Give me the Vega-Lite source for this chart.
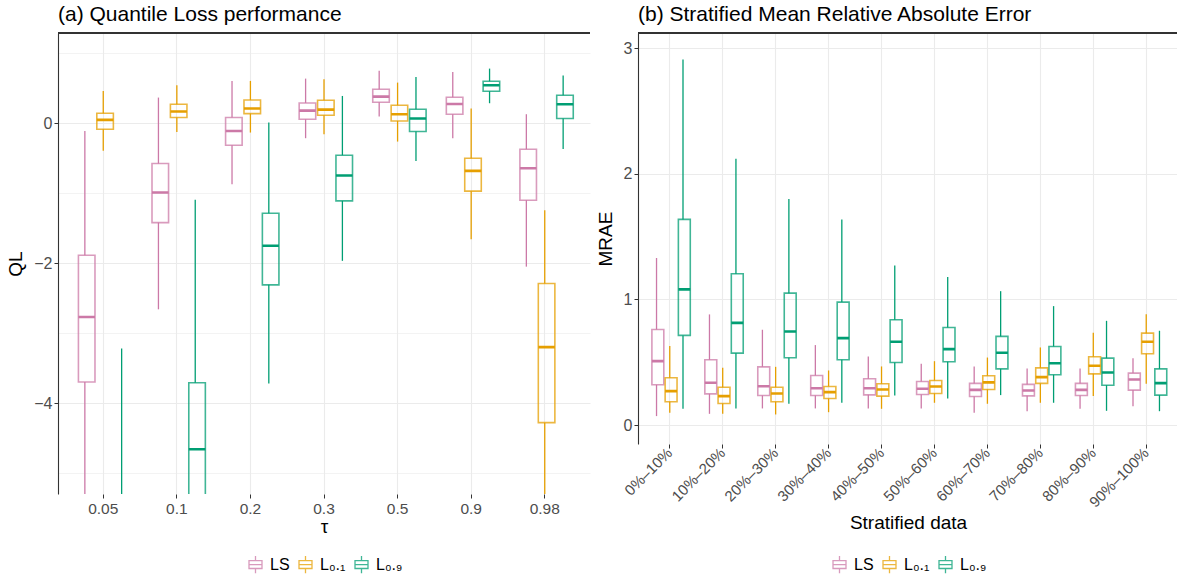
{
  "$schema": "https://vega.github.io/schema/vega-lite/v6.json",
  "background": "white",
  "padding": {"left": 6, "top": 4, "right": 0, "bottom": 0},
  "spacing": 5,
  "config": {
    "font": "Liberation Sans",
    "view": {"stroke": null},
    "axis": {"labelColor": "#4d4d4d", "labelFontSize": 16, "titleFontSize": 19, "titleFontWeight": "normal", "titleColor": "#000", "tickColor": "#333", "domainColor": "#333", "gridColor": "#ebebeb", "tickSize": 4},
    "legend": {"layout": {"bottom": {"anchor": "middle"}}},
    "title": {"fontSize": 21, "fontWeight": "normal", "color": "#000", "anchor": "start"}
  },
  "resolve": {"legend": {"color": "independent"}, "scale": {"color": "independent", "xOffset": "independent", "x": "independent", "y": "independent"}},
  "hconcat": [
    {
      "width": 532,
      "height": 461,
      "title": {"text": "(a) Quantile Loss performance", "frame": "group", "offset": 7},
      "data": {"values": [
        {"tau": "0.05", "method": "LS", "lower": -6.5, "q1": -3.70, "median": -2.77, "q3": -1.886, "upper": -0.11},
        {"tau": "0.05", "method": "L₀.₁", "lower": -0.395, "q1": -0.086, "median": 0.048, "q3": 0.143, "upper": 0.46},
        {"tau": "0.05", "method": "L₀.₉", "lower": -9.0, "q1": -7.8, "median": -7.0, "q3": -6.2, "upper": -3.22},
        {"tau": "0.1", "method": "LS", "lower": -2.66, "q1": -1.42, "median": -0.99, "q3": -0.576, "upper": 0.367},
        {"tau": "0.1", "method": "L₀.₁", "lower": -0.124, "q1": 0.081, "median": 0.167, "q3": 0.271, "upper": 0.543},
        {"tau": "0.1", "method": "L₀.₉", "lower": -7.2, "q1": -5.6, "median": -4.66, "q3": -3.71, "upper": -1.095},
        {"tau": "0.2", "method": "LS", "lower": -0.871, "q1": -0.314, "median": -0.11, "q3": 0.081, "upper": 0.605},
        {"tau": "0.2", "method": "L₀.₁", "lower": -0.133, "q1": 0.138, "median": 0.21, "q3": 0.333, "upper": 0.605},
        {"tau": "0.2", "method": "L₀.₉", "lower": -3.72, "q1": -2.31, "median": -1.752, "q3": -1.286, "upper": 0.01},
        {"tau": "0.3", "method": "LS", "lower": -0.214, "q1": 0.057, "median": 0.181, "q3": 0.29, "upper": 0.638},
        {"tau": "0.3", "method": "L₀.₁", "lower": -0.157, "q1": 0.114, "median": 0.195, "q3": 0.329, "upper": 0.629},
        {"tau": "0.3", "method": "L₀.₉", "lower": -1.967, "q1": -1.11, "median": -0.748, "q3": -0.457, "upper": 0.39},
        {"tau": "0.5", "method": "LS", "lower": 0.095, "q1": 0.3, "median": 0.381, "q3": 0.486, "upper": 0.752},
        {"tau": "0.5", "method": "L₀.₁", "lower": -0.262, "q1": 0.033, "median": 0.129, "q3": 0.257, "upper": 0.581},
        {"tau": "0.5", "method": "L₀.₉", "lower": -0.538, "q1": -0.119, "median": 0.067, "q3": 0.2, "upper": 0.662},
        {"tau": "0.9", "method": "LS", "lower": -0.214, "q1": 0.129, "median": 0.276, "q3": 0.371, "upper": 0.733},
        {"tau": "0.9", "method": "L₀.₁", "lower": -1.657, "q1": -0.971, "median": -0.681, "q3": -0.5, "upper": 0.21},
        {"tau": "0.9", "method": "L₀.₉", "lower": 0.286, "q1": 0.457, "median": 0.543, "q3": 0.6, "upper": 0.781},
        {"tau": "0.98", "method": "LS", "lower": -2.05, "q1": -1.1, "median": -0.643, "q3": -0.371, "upper": 0.129},
        {"tau": "0.98", "method": "L₀.₁", "lower": -6.0, "q1": -4.28, "median": -3.2, "q3": -2.29, "upper": -1.243},
        {"tau": "0.98", "method": "L₀.₉", "lower": -0.367, "q1": 0.067, "median": 0.271, "q3": 0.4, "upper": 0.681}
      ]},
      "layer": [
        {
          "encoding": {
            "x": {"field": "tau", "type": "nominal", "sort": ["0.05", "0.1", "0.2", "0.3", "0.5", "0.9", "0.98"],
                  "scale": {"paddingInner": 0.25, "paddingOuter": 0.24},
                  "axis": {"title": "τ", "labelAngle": 0, "labelFontSize": 15.5, "grid": true, "gridWidth": 1.1, "domain": false, "titlePadding": 1, "labelPadding": 3}},
            "xOffset": {"field": "method", "sort": ["LS", "L₀.₁", "L₀.₉"], "scale": {"paddingInner": 0, "paddingOuter": 0}},
            "color": {"field": "method", "type": "nominal",
                      "scale": {"domain": ["LS", "L₀.₁", "L₀.₉"], "range": ["#CC79A7", "#E69F00", "#009E73"]},
                      "legend": {"title": null, "orient": "bottom", "direction": "horizontal", "labelFontSize": 16, "labelColor": "#000", "symbolType": "M-0.75,-0.45H0.75V0.45H-0.75Z M-0.75,0H0.75 M0,-0.45V-1 M0,0.45V1", "symbolSize": 300, "symbolStrokeWidth": 1.3, "symbolOpacity": 0.75, "columnPadding": 6, "labelOffset": 5, "offset": 18}}
          },
          "layer": [
            {"mark": {"type": "rule", "clip": true, "strokeWidth": 1.3},
             "encoding": {"y": {"field": "lower", "type": "quantitative", "scale": {"domain": [-5.3, 1.29], "nice": false, "zero": false},
                                "axis": {"title": "QL", "format": "d", "values": [-5, -4, -3, -2, -1, 0, 1], "labelExpr": "datum.value % 2 == 0 ? datum.label : ''",
                                         "tickOpacity": {"condition": {"test": "datum.value % 2 == 0", "value": 1}, "value": 0},
                                         "gridWidth": {"condition": {"test": "datum.value % 2 == 0", "value": 1.1}, "value": 0.6},
                                         "titlePadding": 8, "domainWidth": 1.1}},
                          "y2": {"field": "q1"}}},
            {"mark": {"type": "rule", "clip": true, "strokeWidth": 1.3},
             "encoding": {"y": {"field": "q3", "type": "quantitative"}, "y2": {"field": "upper"}}},
            {"mark": {"type": "bar", "clip": true, "filled": false, "strokeWidth": 1.6, "strokeOpacity": 0.75, "width": {"band": 0.9}},
             "encoding": {"y": {"field": "q1", "type": "quantitative"}, "y2": {"field": "q3"}}},
            {"mark": {"type": "bar", "clip": true, "filled": false, "strokeWidth": 2.6, "width": {"band": 0.9}},
             "encoding": {"y": {"field": "median", "type": "quantitative"}, "y2": {"field": "median"}}}
          ]
        },
        {"mark": {"type": "rule", "color": "#333", "strokeWidth": 1.3}, "encoding": {"y": {"datum": 1.29}}}
      ]
    },
    {
      "width": 540,
      "height": 411,
      "title": {"text": "(b) Stratified Mean Relative Absolute Error", "frame": "group", "offset": 7},
      "data": {"values": [
        {"strat": "0%–10%", "method": "LS", "lower": 0.072, "q1": 0.321, "median": 0.509, "q3": 0.761, "upper": 1.33},
        {"strat": "0%–10%", "method": "L₀.₁", "lower": 0.098, "q1": 0.186, "median": 0.271, "q3": 0.377, "upper": 0.629},
        {"strat": "0%–10%", "method": "L₀.₉", "lower": 0.13, "q1": 0.714, "median": 1.08, "q3": 1.637, "upper": 2.91},
        {"strat": "10%–20%", "method": "LS", "lower": 0.09, "q1": 0.249, "median": 0.337, "q3": 0.52, "upper": 0.881},
        {"strat": "10%–20%", "method": "L₀.₁", "lower": 0.09, "q1": 0.172, "median": 0.231, "q3": 0.302, "upper": 0.456},
        {"strat": "10%–20%", "method": "L₀.₉", "lower": 0.133, "q1": 0.573, "median": 0.814, "q3": 1.204, "upper": 2.12},
        {"strat": "20%–30%", "method": "LS", "lower": 0.133, "q1": 0.236, "median": 0.31, "q3": 0.464, "upper": 0.759},
        {"strat": "20%–30%", "method": "L₀.₁", "lower": 0.085, "q1": 0.186, "median": 0.252, "q3": 0.302, "upper": 0.464},
        {"strat": "20%–30%", "method": "L₀.₉", "lower": 0.17, "q1": 0.536, "median": 0.745, "q3": 1.05, "upper": 1.80},
        {"strat": "30%–40%", "method": "LS", "lower": 0.133, "q1": 0.236, "median": 0.294, "q3": 0.395, "upper": 0.637},
        {"strat": "30%–40%", "method": "L₀.₁", "lower": 0.103, "q1": 0.212, "median": 0.263, "q3": 0.308, "upper": 0.435},
        {"strat": "30%–40%", "method": "L₀.₉", "lower": 0.178, "q1": 0.52, "median": 0.692, "q3": 0.979, "upper": 1.637},
        {"strat": "40%–50%", "method": "LS", "lower": 0.133, "q1": 0.241, "median": 0.294, "q3": 0.369, "upper": 0.546},
        {"strat": "40%–50%", "method": "L₀.₁", "lower": 0.13, "q1": 0.231, "median": 0.284, "q3": 0.329, "upper": 0.467},
        {"strat": "40%–50%", "method": "L₀.₉", "lower": 0.236, "q1": 0.499, "median": 0.663, "q3": 0.838, "upper": 1.27},
        {"strat": "50%–60%", "method": "LS", "lower": 0.133, "q1": 0.244, "median": 0.289, "q3": 0.347, "upper": 0.488},
        {"strat": "50%–60%", "method": "L₀.₁", "lower": 0.178, "q1": 0.252, "median": 0.308, "q3": 0.355, "upper": 0.509},
        {"strat": "50%–60%", "method": "L₀.₉", "lower": 0.212, "q1": 0.504, "median": 0.605, "q3": 0.777, "upper": 1.178},
        {"strat": "60%–70%", "method": "LS", "lower": 0.098, "q1": 0.228, "median": 0.281, "q3": 0.332, "upper": 0.467},
        {"strat": "60%–70%", "method": "L₀.₁", "lower": 0.17, "q1": 0.284, "median": 0.34, "q3": 0.393, "upper": 0.538},
        {"strat": "60%–70%", "method": "L₀.₉", "lower": 0.239, "q1": 0.448, "median": 0.576, "q3": 0.706, "upper": 1.066},
        {"strat": "70%–80%", "method": "LS", "lower": 0.111, "q1": 0.233, "median": 0.276, "q3": 0.324, "upper": 0.451},
        {"strat": "70%–80%", "method": "L₀.₁", "lower": 0.178, "q1": 0.332, "median": 0.382, "q3": 0.456, "upper": 0.618},
        {"strat": "70%–80%", "method": "L₀.₉", "lower": 0.178, "q1": 0.401, "median": 0.493, "q3": 0.626, "upper": 0.947},
        {"strat": "80%–90%", "method": "LS", "lower": 0.13, "q1": 0.236, "median": 0.281, "q3": 0.332, "upper": 0.451},
        {"strat": "80%–90%", "method": "L₀.₁", "lower": 0.231, "q1": 0.408, "median": 0.472, "q3": 0.544, "upper": 0.735},
        {"strat": "80%–90%", "method": "L₀.₉", "lower": 0.114, "q1": 0.318, "median": 0.419, "q3": 0.533, "upper": 0.83},
        {"strat": "90%–100%", "method": "LS", "lower": 0.151, "q1": 0.279, "median": 0.363, "q3": 0.414, "upper": 0.533},
        {"strat": "90%–100%", "method": "L₀.₁", "lower": 0.329, "q1": 0.568, "median": 0.663, "q3": 0.732, "upper": 0.883},
        {"strat": "90%–100%", "method": "L₀.₉", "lower": 0.111, "q1": 0.239, "median": 0.334, "q3": 0.448, "upper": 0.751}
      ]},
      "layer": [
        {
          "encoding": {
            "x": {"field": "strat", "type": "nominal", "sort": ["0%–10%", "10%–20%", "20%–30%", "30%–40%", "40%–50%", "50%–60%", "60%–70%", "70%–80%", "80%–90%", "90%–100%"],
                  "scale": {"paddingInner": 0.25, "paddingOuter": 0.225},
                  "axis": {"title": "Stratified data", "labelAngle": -45, "labelAlign": "right", "labelBaseline": "middle", "labelFontSize": 15, "grid": true, "gridWidth": 1.1, "domain": false, "titlePadding": 4, "labelPadding": 2}},
            "xOffset": {"field": "method", "sort": ["LS", "L₀.₁", "L₀.₉"], "scale": {"paddingInner": 0, "paddingOuter": 0}},
            "color": {"field": "method", "type": "nominal",
                      "scale": {"domain": ["LS", "L₀.₁", "L₀.₉"], "range": ["#CC79A7", "#E69F00", "#009E73"]},
                      "legend": {"title": null, "orient": "bottom", "direction": "horizontal", "labelFontSize": 16, "labelColor": "#000", "symbolType": "M-0.75,-0.45H0.75V0.45H-0.75Z M-0.75,0H0.75 M0,-0.45V-1 M0,0.45V1", "symbolSize": 300, "symbolStrokeWidth": 1.3, "symbolOpacity": 0.75, "columnPadding": 6, "labelOffset": 5, "offset": 22}}
          },
          "layer": [
            {"mark": {"type": "rule", "clip": true, "strokeWidth": 1.3},
             "encoding": {"y": {"field": "lower", "type": "quantitative", "scale": {"domain": [-0.15, 3.12], "nice": false, "zero": false},
                                "axis": {"title": "MRAE", "format": "d", "values": [0, 0.5, 1, 1.5, 2, 2.5, 3], "labelExpr": "datum.value % 1 == 0 ? datum.label : ''",
                                         "tickOpacity": {"condition": {"test": "datum.value % 1 == 0", "value": 1}, "value": 0},
                                         "gridWidth": {"condition": {"test": "datum.value % 1 == 0", "value": 1.1}, "value": 0.6},
                                         "titlePadding": 8, "domainWidth": 1.1}},
                          "y2": {"field": "q1"}}},
            {"mark": {"type": "rule", "clip": true, "strokeWidth": 1.3},
             "encoding": {"y": {"field": "q3", "type": "quantitative"}, "y2": {"field": "upper"}}},
            {"mark": {"type": "bar", "clip": true, "filled": false, "strokeWidth": 1.6, "strokeOpacity": 0.75, "width": {"band": 0.9}},
             "encoding": {"y": {"field": "q1", "type": "quantitative"}, "y2": {"field": "q3"}}},
            {"mark": {"type": "bar", "clip": true, "filled": false, "strokeWidth": 2.6, "width": {"band": 0.9}},
             "encoding": {"y": {"field": "median", "type": "quantitative"}, "y2": {"field": "median"}}}
          ]
        },
        {"mark": {"type": "rule", "color": "#333", "strokeWidth": 1.3}, "encoding": {"y": {"datum": 3.12}}}
      ]
    }
  ]
}
